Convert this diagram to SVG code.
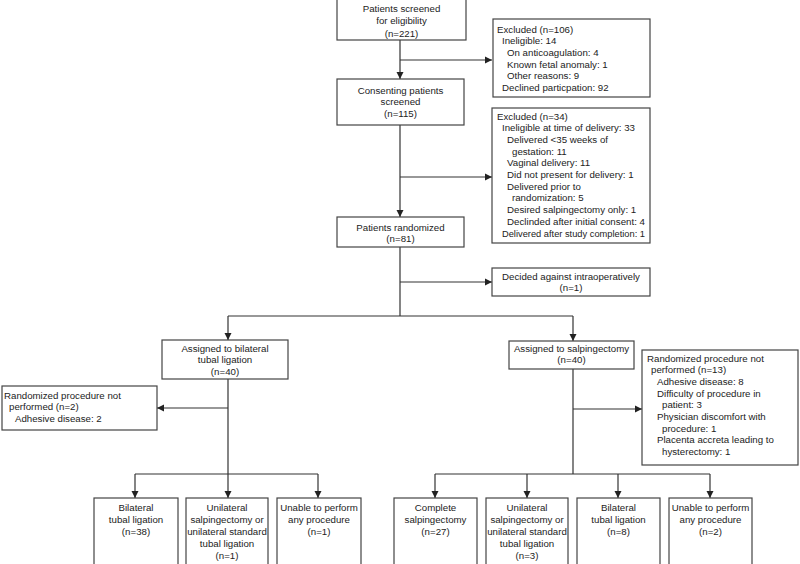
<svg xmlns="http://www.w3.org/2000/svg" width="800" height="564" viewBox="0 0 800 564">
<style>
.b{fill:#fff;stroke:#444;stroke-width:1.2}
.l{fill:none;stroke:#333;stroke-width:1.2}
text{font-family:"Liberation Sans",Arial,sans-serif;font-size:9.7px;fill:#222}
.c{text-anchor:middle}
</style>
<defs>
<marker id="ah" markerUnits="userSpaceOnUse" markerWidth="8" markerHeight="8" refX="7" refY="4" orient="auto">
<path d="M0,0.5 L7,4 L0,7.5 z" fill="#222"/>
</marker>
</defs>
<rect width="800" height="564" fill="#fff"/>
<g id="connectors">
<path class="l" d="M400,40 V79" marker-end="url(#ah)"/>
<path class="l" d="M400,60 H492" marker-end="url(#ah)"/>
<path class="l" d="M400,125 V217" marker-end="url(#ah)"/>
<path class="l" d="M400,177 H492" marker-end="url(#ah)"/>
<path class="l" d="M400,247 V316"/>
<path class="l" d="M400,282 H492" marker-end="url(#ah)"/>
<path class="l" d="M228,316 H573"/>
<path class="l" d="M228,316 V340" marker-end="url(#ah)"/>
<path class="l" d="M573,316 V341" marker-end="url(#ah)"/>
<path class="l" d="M228,379 V474"/>
<path class="l" d="M228,408 H157" marker-end="url(#ah)"/>
<path class="l" d="M135,474 H318"/>
<path class="l" d="M135,474 V498" marker-end="url(#ah)"/>
<path class="l" d="M228,474 V498" marker-end="url(#ah)"/>
<path class="l" d="M318,474 V498" marker-end="url(#ah)"/>
<path class="l" d="M573,369 V474"/>
<path class="l" d="M573,409 H642" marker-end="url(#ah)"/>
<path class="l" d="M435,474 H710"/>
<path class="l" d="M435,474 V498" marker-end="url(#ah)"/>
<path class="l" d="M527,474 V498" marker-end="url(#ah)"/>
<path class="l" d="M618,474 V498" marker-end="url(#ah)"/>
<path class="l" d="M710,474 V498" marker-end="url(#ah)"/>
</g>
<g id="screened">
<rect class="b" x="337" y="-1" width="129" height="41"/>
<text class="c" x="401.5" y="12">Patients screened</text>
<text class="c" x="401.5" y="24.3">for eligibility</text>
<text class="c" x="401.5" y="36.5">(n=221)</text>
</g>
<g id="excluded1">
<rect class="b" x="493" y="19" width="157" height="78"/>
<text x="497" y="32.5">Excluded (n=106)</text>
<text x="502" y="44.2">Ineligible: 14</text>
<text x="507" y="55.9">On anticoagulation: 4</text>
<text x="507" y="67.6">Known fetal anomaly: 1</text>
<text x="507" y="79.3">Other reasons: 9</text>
<text x="502" y="91">Declined particpation: 92</text>
</g>
<g id="consenting">
<rect class="b" x="337" y="79" width="127" height="46"/>
<text class="c" x="400.5" y="93.5">Consenting patients</text>
<text class="c" x="400.5" y="105.2">screened</text>
<text class="c" x="400.5" y="116.9">(n=115)</text>
</g>
<g id="excluded2">
<rect class="b" x="492" y="108" width="158" height="135"/>
<text x="497" y="119.5">Excluded (n=34)</text>
<text x="502" y="131.2">Ineligible at time of delivery: 33</text>
<text x="507" y="142.9">Delivered &lt;35 weeks of</text>
<text x="512" y="154.6">gestation: 11</text>
<text x="507" y="166.3">Vaginal delivery: 11</text>
<text x="507" y="178">Did not present for delivery: 1</text>
<text x="507" y="189.7">Delivered prior to</text>
<text x="512" y="201.4">randomization: 5</text>
<text x="507" y="213.1">Desired salpingectomy only: 1</text>
<text x="507" y="224.8" textLength="138" lengthAdjust="spacingAndGlyphs">Declinded after initial consent: 4</text>
<text x="502" y="236.5" textLength="143" lengthAdjust="spacingAndGlyphs">Delivered after study completion: 1</text>
</g>
<g id="randomized">
<rect class="b" x="337" y="217" width="127" height="30"/>
<text class="c" x="400.5" y="230.5">Patients randomized</text>
<text class="c" x="400.5" y="242">(n=81)</text>
</g>
<g id="decided">
<rect class="b" x="492" y="268" width="158" height="28"/>
<text class="c" x="571" y="279.5">Decided against intraoperatively</text>
<text class="c" x="571" y="291">(n=1)</text>
</g>
<g id="assigned-btl">
<rect class="b" x="162" y="340" width="126" height="39"/>
<text class="c" x="225" y="351.5">Assigned to bilateral</text>
<text class="c" x="225" y="363.3">tubal ligation</text>
<text class="c" x="225" y="375">(n=40)</text>
</g>
<g id="assigned-salp">
<rect class="b" x="509" y="341" width="125" height="28"/>
<text class="c" x="571.5" y="351.8">Assigned to salpingectomy</text>
<text class="c" x="571.5" y="363.3">(n=40)</text>
</g>
<g id="not-performed-btl">
<rect class="b" x="2" y="386" width="155" height="44"/>
<text x="4" y="398.5">Randomized procedure not</text>
<text x="9" y="410.2">performed (n=2)</text>
<text x="15" y="421.9">Adhesive disease: 2</text>
</g>
<g id="not-performed-salp">
<rect class="b" x="642" y="350" width="156" height="115"/>
<text x="647" y="361.5">Randomized procedure not</text>
<text x="651" y="373.2">performed (n=13)</text>
<text x="657" y="384.9">Adhesive disease: 8</text>
<text x="657" y="396.6">Difficulty of procedure in</text>
<text x="662" y="408.3">patient: 3</text>
<text x="657" y="420">Physician discomfort with</text>
<text x="662" y="431.7">procedure: 1</text>
<text x="657" y="443.4">Placenta accreta leading to</text>
<text x="662" y="455.1">hysterectomy: 1</text>
</g>
<g id="btl-btl">
<rect class="b" x="94" y="498" width="84" height="70"/>
<text class="c" x="136" y="510.5">Bilateral</text>
<text class="c" x="136" y="522.5">tubal ligation</text>
<text class="c" x="136" y="534.5">(n=38)</text>
</g>
<g id="btl-uni">
<rect class="b" x="186" y="498" width="82" height="70"/>
<text class="c" x="227" y="510.5">Unilateral</text>
<text class="c" x="227" y="522.5">salpingectomy or</text>
<text class="c" x="227" y="534.5">unilateral standard</text>
<text class="c" x="227" y="546.5">tubal ligation</text>
<text class="c" x="227" y="558.5">(n=1)</text>
</g>
<g id="btl-none">
<rect class="b" x="277" y="498" width="84" height="70"/>
<text class="c" x="319" y="510.5">Unable to perform</text>
<text class="c" x="319" y="522.5">any procedure</text>
<text class="c" x="319" y="534.5">(n=1)</text>
</g>
<g id="salp-complete">
<rect class="b" x="394" y="498" width="83" height="70"/>
<text class="c" x="435.5" y="510.5">Complete</text>
<text class="c" x="435.5" y="522.5">salpingectomy</text>
<text class="c" x="435.5" y="534.5">(n=27)</text>
</g>
<g id="salp-uni">
<rect class="b" x="486" y="498" width="82" height="70"/>
<text class="c" x="527" y="510.5">Unilateral</text>
<text class="c" x="527" y="522.5">salpingectomy or</text>
<text class="c" x="527" y="534.5">unilateral standard</text>
<text class="c" x="527" y="546.5">tubal ligation</text>
<text class="c" x="527" y="558.5">(n=3)</text>
</g>
<g id="salp-btl">
<rect class="b" x="577" y="498" width="83" height="70"/>
<text class="c" x="618.5" y="510.5">Bilateral</text>
<text class="c" x="618.5" y="522.5">tubal ligation</text>
<text class="c" x="618.5" y="534.5">(n=8)</text>
</g>
<g id="salp-none">
<rect class="b" x="669" y="498" width="83" height="70"/>
<text class="c" x="710.5" y="510.5">Unable to perform</text>
<text class="c" x="710.5" y="522.5">any procedure</text>
<text class="c" x="710.5" y="534.5">(n=2)</text>
</g>
</svg>
